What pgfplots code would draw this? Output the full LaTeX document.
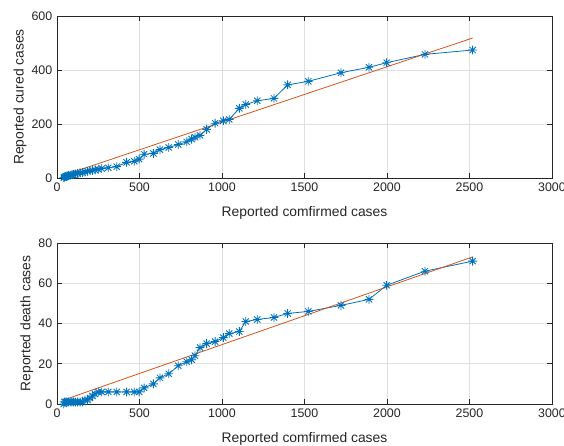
\documentclass[border=0pt]{standalone}
\usepackage{pgfplots}
\pgfplotsset{compat=1.18}
\usepackage{pgfplotstable}
\usepackage{fontspec}
\setmainfont{Liberation Sans}

\definecolor{mblue}{rgb}{0,0.447,0.741}
\definecolor{mred}{rgb}{0.85,0.325,0.098}
\definecolor{axgray}{gray}{0.15}

% 8-armed asterisk like the MATLAB '*' marker
\pgfdeclareplotmark{mstar}{%
  \pgfpathmoveto{\pgfqpoint{0pt}{\pgfplotmarksize}}%
  \pgfpathlineto{\pgfqpoint{0pt}{-\pgfplotmarksize}}%
  \pgfpathmoveto{\pgfqpoint{\pgfplotmarksize}{0pt}}%
  \pgfpathlineto{\pgfqpoint{-\pgfplotmarksize}{0pt}}%
  \pgfpathmoveto{\pgfqpoint{.707\pgfplotmarksize}{.707\pgfplotmarksize}}%
  \pgfpathlineto{\pgfqpoint{-.707\pgfplotmarksize}{-.707\pgfplotmarksize}}%
  \pgfpathmoveto{\pgfqpoint{-.707\pgfplotmarksize}{.707\pgfplotmarksize}}%
  \pgfpathlineto{\pgfqpoint{.707\pgfplotmarksize}{-.707\pgfplotmarksize}}%
  \pgfusepathqstroke}

\pgfplotstableread{
x     cured death
41    1     0
45    3     1
50    5     1
56    6     1
62    8     1
70    9     1
80    10    1
90    12    1
100   13    1
112   15    1
125   17    1
140   19    1
155   20    1
170   22    2
185   25    2
200   27    3
215   28    4
230   30    5
250   32    6
271   35    6
311   38    6
362   42    6
422   58    6
468   62    6
498   70    6
528   88    8
584   91    10
624   105   13
677   113   15
735   124   19
786   134   21
816   144   22
836   151   24
867   158   28
907   180   30
958   203   31
1008  212   33
1044  217   35
1105  258   36
1144  272   41
1214  286   42
1315  295   43
1398  345   45
1523  358   46
1721  390   49
1891  410   52
1998  427   59
2230  458   66
2519  474   71
}\covid

\pgfplotsset{
  mstyle/.style={
    scale only axis, width=371.25pt,
    xmin=0, xmax=3000, xtick={0,500,...,3000},
    grid=major, grid style={gray!25, line width=0.5pt},
    axis line style={axgray, line width=0.5pt},
    tick style={axgray, line width=0.5pt}, tick align=inside,
    major tick length=3.75pt,
    ticklabel style={font=\fontsize{9.3}{11}\selectfont, text=axgray},
    label style={font=\fontsize{10.4}{12}\selectfont, text=axgray},
    /pgf/number format/assume math mode=true,
    /pgf/number format/set thousands separator={},
    scaled ticks=false,
    xlabel={Reported comfirmed cases},
    xlabel shift=4pt, ylabel shift=-3pt,
  },
  dat/.style={mblue, line width=0.6pt, mark=mstar, mark size=3.3pt,
    mark options={line width=0.65pt}},
  fit/.style={mred, line width=0.6pt, no markers},
}

\begin{document}
\begin{tikzpicture}
\begin{axis}[mstyle, at={(42.75pt,201pt)}, anchor=south west,
  height=121.5pt, ymin=0, ymax=600, ytick={0,200,400,600},
  ylabel={Reported cured cases}]
\addplot[dat] table[x=x, y=cured] {\covid};
\addplot[fit] coordinates {(41,10.4) (2519,518.4)};
\end{axis}

\begin{axis}[mstyle, at={(42.75pt,31.5pt)}, anchor=south west,
  height=120.75pt, ymin=0, ymax=80, ytick={0,20,...,80},
  ylabel={Reported death cases}]
\addplot[dat] table[x=x, y=death] {\covid};
\addplot[fit] coordinates {(41,2.0) (2519,73.1)};
\end{axis}
\pgfresetboundingbox
\useasboundingbox (0,0) rectangle (423pt,334.5pt);
\end{tikzpicture}
\end{document}
